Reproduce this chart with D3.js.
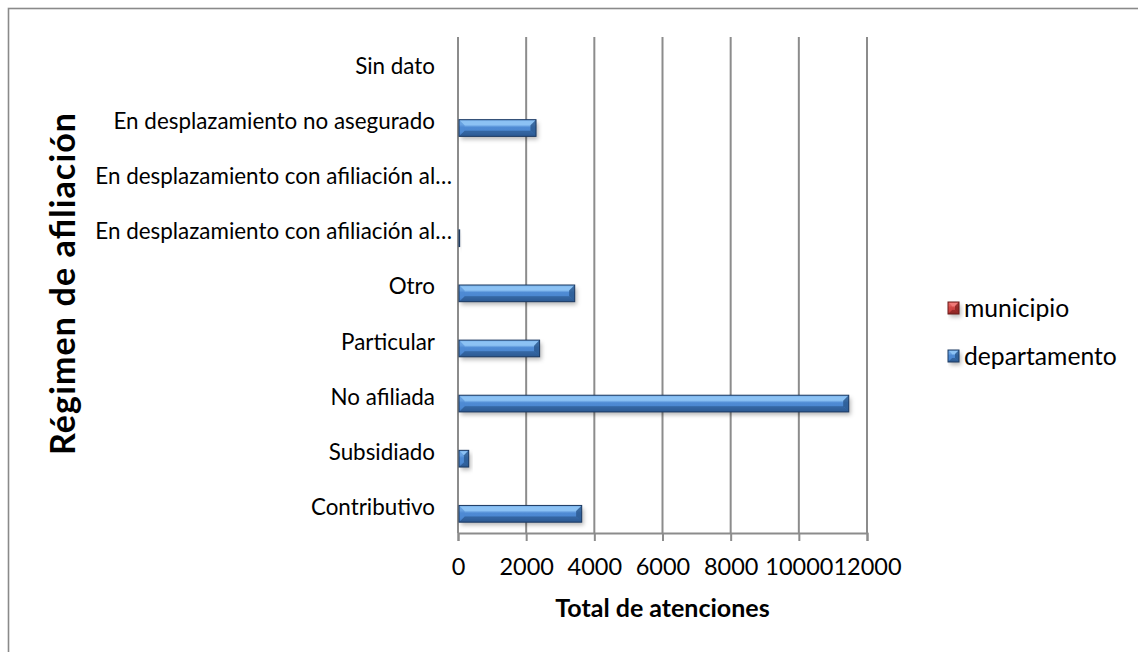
<!DOCTYPE html>
<html>
<head>
<meta charset="utf-8">
<script src="https://cdn.jsdelivr.net/npm/d3@7"></script>
<style>
  html, body { margin: 0; padding: 0; background: #fff; }
  svg { display: block; font-family: Lato, "Open Sans", sans-serif; }
</style>
</head>
<body>
<svg id="chart" width="1138" height="652"></svg>
<script>
// Régimen de afiliación — total de atenciones por régimen
const categories = [
  "Contributivo",
  "Subsidiado",
  "No afiliada",
  "Particular",
  "Otro",
  "En desplazamiento con afiliación al régimen contributivo",
  "En desplazamiento con afiliación al régimen subsidiado",
  "En desplazamiento no asegurado",
  "Sin dato"
];
const seriesNames = ["municipio", "departamento"];
const municipio    = [0, 0, 0, 0, 0, 0, 0, 0, 0];
const departamento = [3600, 285, 11435, 2365, 3395, 20, 0, 2260, 0];
const xTicks = [0, 2000, 4000, 6000, 8000, 10000, 12000];
const xTitle = "Total de atenciones";
const yTitle = "Régimen de afiliación";

const seriesValues = { municipio, departamento };
const seriesColors = {
  municipio:    { base: "#c0393a", light: "#f07a78", mid: "#d24a48", dark: "#8c2624", edge: "#6a1a19" },
  departamento: { base: "#4a86cf", light: "#8cc2f4", mid: "#4f8bd4", dark: "#2c5a92", edge: "#1d3a62" }
};

const svg = d3.select("#chart");
const plot = { left: 458, right: 867, top: 37, bottom: 533 };

// Chart frame
svg.append("rect")
  .attr("x", 8.5).attr("y", 8.5).attr("width", 1160).attr("height", 680)
  .attr("fill", "#fff").attr("stroke", "#8a8a8a").attr("stroke-width", 1.6);

const defs = svg.append("defs");
Object.entries(seriesColors).forEach(([name, c]) => {
  const g = defs.append("linearGradient").attr("id", "grad-" + name)
    .attr("x1", 0).attr("y1", 0).attr("x2", 0).attr("y2", 1);
  [[0, c.mid], [0.12, c.light], [0.3, c.light], [0.45, c.mid], [0.75, c.base], [1, c.dark]]
    .forEach(([o, col]) => g.append("stop").attr("offset", o).attr("stop-color", col));
});
const blur = defs.append("filter").attr("id", "shadow")
  .attr("x", "-10%").attr("y", "-50%").attr("width", "130%").attr("height", "250%");
blur.append("feGaussianBlur").attr("stdDeviation", 2);

const x = d3.scaleLinear().domain([0, 12000]).range([plot.left, plot.right]);
const y = d3.scaleBand().domain(categories).range([plot.bottom, plot.top])
  .paddingInner(0.394).paddingOuter(0.197);
const ySub = d3.scaleBand().domain(seriesNames).range([0, y.bandwidth()]);

// Vertical gridlines
svg.append("g").selectAll("line").data(xTicks).join("line")
  .attr("x1", d => x(d)).attr("x2", d => x(d))
  .attr("y1", plot.top).attr("y2", plot.bottom)
  .attr("stroke", "#8c8c8c").attr("stroke-width", 2);

// Bottom axis
const xAxis = svg.append("g").attr("transform", `translate(0,${plot.bottom})`)
  .call(d3.axisBottom(x).tickValues(xTicks).tickFormat(d3.format("d")).tickSize(8).tickPadding(17));
xAxis.select(".domain").attr("stroke", "#8c8c8c").attr("stroke-width", 2);
xAxis.selectAll(".tick line").attr("stroke", "#8c8c8c").attr("stroke-width", 2);
xAxis.selectAll(".tick text").attr("fill", "#000").attr("font-size", 23.5)
  .attr("font-family", "Lato, sans-serif");

// Category axis labels (long names cut with an ellipsis)
const shortName = s => s.length > 36 ? s.slice(0, 35) + "…" : s;
svg.append("g").selectAll("text").data(categories).join("text")
  .attr("x", d => d.length > 36 ? plot.left - 6 : plot.left - 23)
  .attr("y", d => y(d) + y.bandwidth() / 2)
  .attr("dy", "0.42em")
  .attr("text-anchor", "end")
  .attr("font-size", 22.4)
  .attr("fill", "#000")
  .text(shortName);

// Bars with a bevelled, glossy look
function drawBar(g, x0, y0, w, h, name) {
  const c = seriesColors[name];
  if (w <= 0) return;
  const b = Math.min(6, w / 2, h / 3);
  g.append("rect").attr("x", x0 + 2).attr("y", y0 + 3).attr("width", w).attr("height", h)
    .attr("fill", "rgba(0,0,0,0.28)").attr("filter", "url(#shadow)");
  g.append("rect").attr("x", x0).attr("y", y0).attr("width", w).attr("height", h)
    .attr("fill", `url(#grad-${name})`);
  const poly = (pts, fill, op) => g.append("polygon")
    .attr("points", pts.map(p => p.join(",")).join(" "))
    .attr("fill", fill).attr("opacity", op);
  poly([[x0, y0], [x0 + w, y0], [x0 + w - b, y0 + b], [x0 + b, y0 + b]], c.light, 0.55);
  poly([[x0, y0 + h], [x0 + w, y0 + h], [x0 + w - b, y0 + h - b], [x0 + b, y0 + h - b]], c.dark, 0.75);
  poly([[x0 + w, y0], [x0 + w, y0 + h], [x0 + w - b, y0 + h - b], [x0 + w - b, y0 + b]], c.dark, 0.85);
  poly([[x0, y0], [x0, y0 + h], [x0 + b, y0 + h - b], [x0 + b, y0 + b]], c.mid, 0.6);
  g.append("rect").attr("x", x0).attr("y", y0).attr("width", w).attr("height", h)
    .attr("fill", "none").attr("stroke", c.edge).attr("stroke-width", 1);
}

const bars = svg.append("g");
categories.forEach((cat, i) => {
  seriesNames.forEach(name => {
    const v = seriesValues[name][i];
    const x0 = x(0) + 1;
    const w = x(v) - x(0);
    drawBar(bars, x0, y(cat) + ySub(name), w, ySub.bandwidth(), name);
  });
});

// Axis titles
svg.append("text")
  .attr("x", (plot.left + plot.right) / 2)
  .attr("y", 617)
  .attr("text-anchor", "middle")
  .attr("font-size", 25)
  .attr("font-weight", "bold")
  .text(xTitle);

svg.append("text")
  .attr("transform", `translate(75,284) rotate(-90)`)
  .attr("text-anchor", "middle")
  .attr("font-size", 34)
  .attr("font-weight", "bold")
  .attr("textLength", 342)
  .attr("lengthAdjust", "spacing")
  .text(yTitle);

// Legend
const legend = svg.append("g");
seriesNames.forEach((name, i) => {
  const ly = 308 + i * 48;
  drawBar(legend, 948, ly - 6, 11, 12, name);
  legend.append("text").attr("x", 964).attr("y", ly).attr("dy", "0.35em")
    .attr("font-size", 24.7).attr("fill", "#000").text(name);
});
</script>
</body>
</html>
